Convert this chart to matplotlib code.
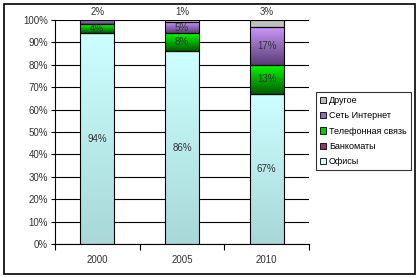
import numpy as np
import matplotlib.pyplot as plt
from matplotlib.colors import LinearSegmentedColormap
from matplotlib.patches import Rectangle

years = ['2000', '2005', '2010']
series = ['Офисы', 'Банкоматы', 'Телефонная связь', 'Сеть Интернет', 'Другое']
offices = [94, 86, 67]
atms = [0, 0, 0]
phone = [4, 8, 13]
internet = [2, 5, 17]
other = [0, 1, 3]
top_labels = ['2%', '1%', '3%']

values = [offices, atms, phone, internet, other]
# (top colour, bottom colour) of each gradient
grads = [('#ccffff', '#a8d8d8'), ('#993366', '#993366'), ('#00ff00', '#005c00'),
         ('#cc99ff', '#5a3c74'), ('#c0c0c0', '#c0c0c0')]
legend_cols = ['#ccffff', '#993366', '#00cc00', '#9966cc', '#c0c0c0']

plt.rcParams['font.family'] = ['Liberation Sans', 'DejaVu Sans']
fig = plt.figure(figsize=(4.2, 2.78), dpi=100)
fig.patches.append(Rectangle((4 / 420, 4 / 278), 411 / 420, 270 / 278, transform=fig.transFigure,
                             fill=False, edgecolor='black', linewidth=1.2))
ax = fig.add_axes([55 / 420, 34 / 278, 254 / 420, 224 / 278])

x = np.arange(len(years))
w = 0.4
bottom = np.zeros(len(years))
handles = []
for vals, (c1, c2), lc, name in zip(values, grads, legend_cols, series):
    vals = np.array(vals, dtype=float)
    bars = ax.bar(x, vals, w, bottom=bottom, color='none', edgecolor='black', linewidth=0.8, zorder=3)
    cmap = LinearSegmentedColormap.from_list('g', [c2, c1])
    for b, v, b0 in zip(bars, vals, bottom):
        if v <= 0:
            continue
        grad = np.linspace(0, 1, 64).reshape(-1, 1)
        im = ax.imshow(grad, cmap=cmap, origin='lower', aspect='auto',
                       extent=(b.get_x(), b.get_x() + w, b0, b0 + v), zorder=2)
        im.set_clip_path(b)
    for xi, v, b0 in zip(x, vals, bottom):
        if v >= 3 and name != 'Другое':
            ax.text(xi, b0 + v / 2, f'{int(v)}%', ha='center', va='center', fontsize=7,
                    color='#333333', zorder=4)
    handles.append(Rectangle((0, 0), 1, 1, facecolor=lc, edgecolor='black', linewidth=0.6))
    bottom += vals

for xi, t in zip(x, top_labels):
    ax.text(xi, 101.5, t, ha='center', va='bottom', fontsize=7, color='#333333')

ax.set_xlim(-0.5, 2.5)
ax.set_ylim(0, 100)
ax.set_yticks(range(0, 101, 10))
ax.set_yticklabels([f'{v}%' for v in range(0, 101, 10)], fontsize=7, color='#333333')
ax.set_xticks(x)
ax.set_xticklabels(years, fontsize=7, color='#333333')
ax.set_xticks([-0.5, 0.5, 1.5, 2.5], minor=True)
ax.tick_params(axis='x', which='major', length=0, pad=8)
ax.tick_params(axis='x', which='minor', length=4, width=0.8)
ax.tick_params(axis='y', length=3, width=0.8, pad=2)
ax.grid(axis='y', color='black', linewidth=0.8, zorder=0)
ax.set_axisbelow(True)
for s in ['top', 'right']:
    ax.spines[s].set_visible(False)
for s in ['left', 'bottom']:
    ax.spines[s].set_linewidth(0.8)

leg = fig.legend(handles[::-1], series[::-1], loc='upper left', bbox_to_anchor=(316 / 420, 1 - 92 / 278),
                 fontsize=6.5, frameon=True, fancybox=False, edgecolor='black', handlelength=0.7,
                 handleheight=0.7, handletextpad=0.3, labelspacing=0.7, borderpad=0.45, borderaxespad=0)
leg.get_frame().set_linewidth(0.8)

fig.savefig('out.png', dpi=100)
